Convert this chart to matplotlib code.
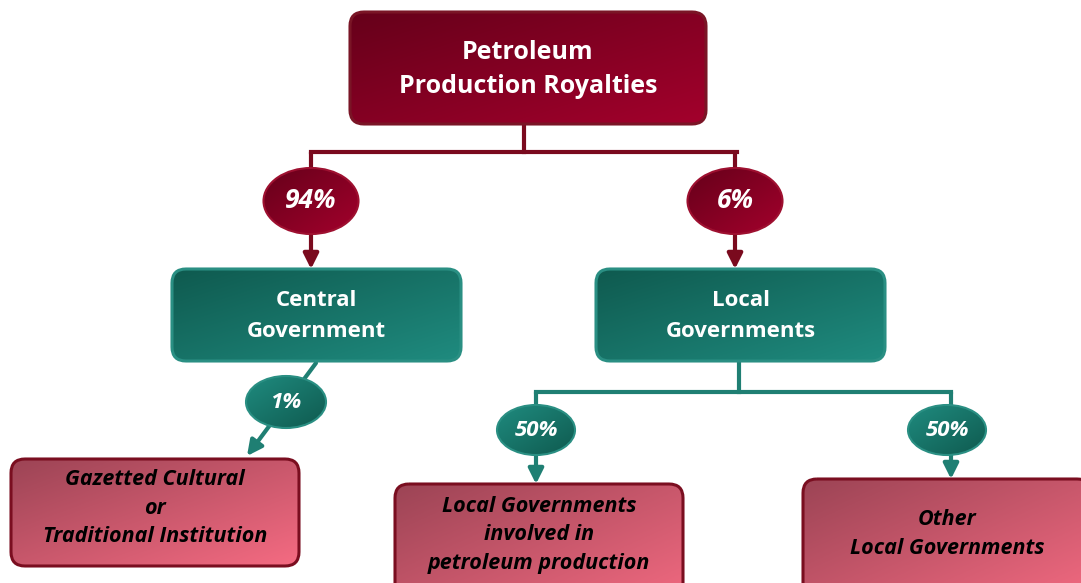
import numpy as np
import matplotlib.pyplot as plt
from matplotlib.patches import FancyBboxPatch, Ellipse
from matplotlib.colors import LinearSegmentedColormap

# Textes des boîtes et pourcentages
top_label = 'Petroleum\nProduction Royalties'
mid_labels = ['Central\nGovernment', 'Local\nGovernments']
mid_shares = ['94%', '6%']
low_labels = ['Gazetted Cultural\nor\nTraditional Institution',
              'Local Governments\ninvolved in\npetroleum production',
              'Other\nLocal Governments']
low_shares = ['1%', '50%', '50%']

RED = ('#66001a', '#a3002c')
TEAL = ('#0f5a4f', '#1f8b7f')
PINK = ('#9c4455', '#f56b82')

fig = plt.figure(figsize=(10.81, 5.83), dpi=100)
ax = fig.add_axes([0, 0, 1, 1])
ax.set_xlim(0, 1081)
ax.set_ylim(583, 0)
ax.axis('off')


def gradient(patch, colors, z):
    x0, y0, x1, y1 = patch.get_extents().transformed(ax.transData.inverted()).extents
    xx, yy = np.meshgrid(np.linspace(0, 1, 200), np.linspace(0, 1, 100))
    img = ax.imshow((xx + yy) / 2, cmap=LinearSegmentedColormap.from_list('g', colors),
                    extent=[min(x0, x1), max(x0, x1), max(y0, y1), min(y0, y1)],
                    aspect='auto', zorder=z, vmin=0, vmax=1)
    img.set_clip_path(patch)


def box(x, y, w, h, colors, edge, text, tcolor, italic=False, size=16, ty=None, ls=1.3):
    p = FancyBboxPatch((x, y), w, h, boxstyle='round,pad=0,rounding_size=14',
                       facecolor='none', edgecolor=edge, lw=2.2, zorder=3)
    ax.add_patch(p)
    gradient(p, colors, 2)
    if ty is None:
        ty = y + h / 2
    ax.text(x + w / 2, ty, text, ha='center', va='center', color=tcolor,
            fontsize=size, fontweight='bold', style='italic' if italic else 'normal',
            family='Open Sans', linespacing=ls, zorder=4)


def bubble(cx, cy, w, h, colors, edge, text, size=18):
    e = Ellipse((cx, cy), w, h, facecolor='none', edgecolor=edge, lw=1.5, zorder=6)
    ax.add_patch(e)
    gradient(e, colors, 5)
    ax.text(cx, cy, text, ha='center', va='center', color='white', fontsize=size,
            fontweight='bold', style='italic', family='Open Sans', zorder=7)


def arrow(x0, y0, x1, y1, color):
    ax.annotate('', xy=(x1, y1), xytext=(x0, y0), zorder=1,
                arrowprops=dict(arrowstyle='-|>,head_length=0.9,head_width=0.45',
                                color=color, lw=3, shrinkA=0, shrinkB=0))


# niveau 1
box(350, 12, 356, 112, RED, '#7a1526', top_label, 'white', size=18, ty=69.5, ls=1.5)
ax.plot([524, 524], [124, 152], color='#7a0a1e', lw=3, zorder=1)
ax.plot([311, 737], [152, 152], color='#7a0a1e', lw=3, zorder=1)

# niveau 2
mid_x = [172, 596]
for bx, lab, share in zip(mid_x, mid_labels, mid_shares):
    cx = bx + 139
    arrow(cx, 152, cx, 269, '#7a0a1e')
    bubble(cx, 201, 95, 66, RED, '#9e1030', share, size=19)
    box(bx, 269, 289, 92, TEAL, '#2a8f83', lab, 'white', size=16, ty=316, ls=1.6)

# niveau 3
arrow(316, 363, 247, 456, '#1f7f73')
bubble(286, 402, 80, 52, TEAL[::-1], '#2a8f83', low_shares[0], size=16)
box(11, 459, 288, 107, PINK, '#7a0e20', low_labels[0], 'black', italic=True,
    size=15.5, ty=508, ls=1.45)

ax.plot([739, 739], [361, 392], color='#1f7f73', lw=3, zorder=1)
ax.plot([536, 951], [392, 392], color='#1f7f73', lw=3, zorder=1)
low_x = [395, 803]
low_y = [484, 479]
text_y = [535, 534]
arrow_x = [536, 951]
bub_x = [536, 947]
for bx, by, tx, axx, bxx, lab, share in zip(low_x, low_y, text_y, arrow_x, bub_x,
                                           low_labels[1:], low_shares[1:]):
    arrow(axx, 392, axx, by, '#1f7f73')
    bubble(bxx, 430, 78, 50, TEAL[::-1], '#2a8f83', share, size=16)
    box(bx, by, 288, 130, PINK, '#7a0e20', lab, 'black', italic=True,
        size=15.5, ty=tx, ls=1.45)

fig.savefig('out.png', dpi=100)
